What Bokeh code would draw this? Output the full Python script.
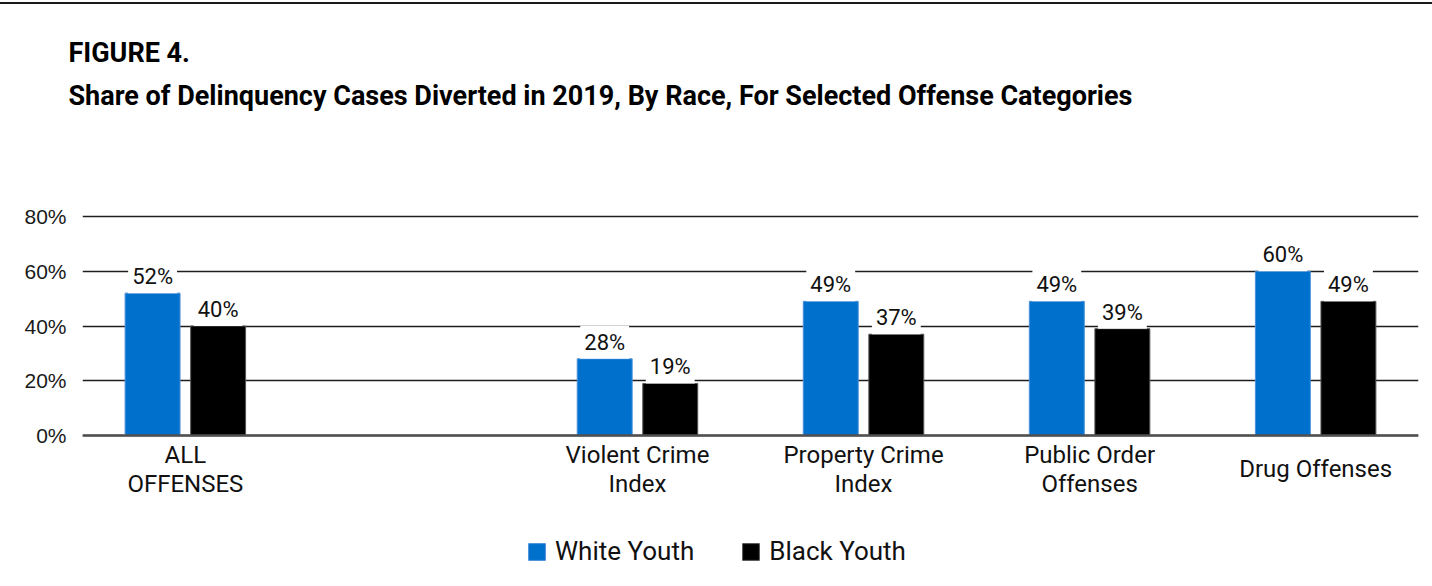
from bokeh.plotting import figure
from bokeh.models import ColumnDataSource, FactorRange, FixedTicker, Legend, LegendItem, Span, Title, Div
from bokeh.transform import dodge
from bokeh.layouts import column
from bokeh.core.properties import value
from bokeh.embed import file_html
from bokeh.resources import INLINE

# ---- data ----
x_factors = ["ALL OFFENSES", " ", "Violent Crime Index", "Property Crime Index",
             "Public Order Offenses", "Drug Offenses"]
categories = ["ALL OFFENSES", "Violent Crime Index", "Property Crime Index",
              "Public Order Offenses", "Drug Offenses"]
category_labels = ["ALL\nOFFENSES", "Violent Crime\nIndex", "Property Crime\nIndex",
                   "Public Order\nOffenses", "Drug Offenses"]
white_youth = [52, 28, 49, 49, 60]
black_youth = [40, 19, 37, 39, 49]
y_ticks = [0, 20, 40, 60, 80]
y_tick_labels = ["0%", "20%", "40%", "60%", "80%"]
series_names = ["White Youth", "Black Youth"]
title_text = "FIGURE 4."
subtitle_text = "Share of Delinquency Cases Diverted in 2019, By Race, For Selected Offense Categories"

# ---- layout constants (pixels) ----
W, H = 1432, 586
TOP_LINE_H = 6
TOP_MARGIN = 2
FIG_H = H - TOP_LINE_H - TOP_MARGIN
FRAME_TOP = 108          # inside figure
PX_PER_UNIT = 2.7375
ZERO_Y = 435 - TOP_LINE_H - TOP_MARGIN  # pixel of 0% inside figure
y_start = -(FIG_H - ZERO_Y) / PX_PER_UNIT
y_end = (ZERO_Y - FRAME_TOP) / PX_PER_UNIT

source = ColumnDataSource(dict(
    cat=categories,
    white=white_youth,
    black=black_youth,
    white_lbl=[f"{v}%" for v in white_youth],
    black_lbl=[f"{v}%" for v in black_youth],
    cat_lbl=category_labels,
    lbl_y=[-12.4] * len(categories),
))

x_range = FactorRange(*x_factors, range_padding=-0.045, range_padding_units="absolute")
p = figure(width=W, height=FIG_H, x_range=x_range,
           y_range=(y_start, y_end), output_backend="svg", toolbar_location=None,
           min_border_left=82, min_border_right=14, min_border_top=FRAME_TOP,
           min_border_bottom=0)
p.outline_line_color = None
p.background_fill_color = "white"
p.border_fill_color = "white"

p.xaxis.visible = False
p.xgrid.grid_line_color = None
p.yaxis.ticker = FixedTicker(ticks=y_ticks)
p.yaxis.major_label_overrides = {t: l for t, l in zip(y_ticks, y_tick_labels)}
p.yaxis.axis_line_color = None
p.yaxis.major_tick_line_color = None
p.yaxis.minor_tick_line_color = None
p.yaxis.major_tick_out = 0
p.yaxis.major_label_standoff = 16
p.yaxis.major_label_text_font = "Liberation Sans"
p.yaxis.major_label_text_font_size = "21px"
p.yaxis.major_label_text_color = "#1a1a1a"
p.ygrid.ticker = FixedTicker(ticks=y_ticks)
p.ygrid.grid_line_color = "#1e1e1e"
p.ygrid.grid_line_width = 1.4

p.add_layout(Span(location=0, dimension="width", line_color="#505050", line_width=2.5))

BAR_W = 0.243
OFF = 0.145
blue = "#0070CD"
r_white = p.vbar(x=dodge("cat", -OFF, range=p.x_range), top="white", width=BAR_W,
                 source=source, fill_color=blue, line_color="#4a90d9", line_width=1)
r_black = p.vbar(x=dodge("cat", OFF, range=p.x_range), top="black", width=BAR_W,
                 source=source, fill_color="black", line_color="#555555", line_width=1)

for col, off in (("white", -OFF), ("black", OFF)):
    p.text(x=dodge("cat", off, range=p.x_range), y=col, text=col + "_lbl", source=source,
           text_align="center", text_baseline="bottom", text_font=value("Roboto"),
           text_font_size="22px", text_color="#111111",
           background_fill_color="white", padding=4)

p.text(x="cat", y="lbl_y", text="cat_lbl", source=source, text_align="center",
       text_baseline="middle", text_font=value("Roboto"), text_font_size="24px",
       text_color="#111111", text_line_height=1.03)

legend = Legend(items=[LegendItem(label=series_names[0], renderers=[r_white]),
                       LegendItem(label=series_names[1], renderers=[r_black])],
                orientation="horizontal", location=(444, 20),
                glyph_width=21, glyph_height=21, label_text_font="Roboto",
                label_text_font_size="26px", label_text_color="#111111",
                label_height=26, label_standoff=8, spacing=46, padding=0, margin=0,
                border_line_color=None, background_fill_alpha=0)
p.add_layout(legend)

t2 = Title(text=subtitle_text, text_font="Roboto", text_font_size="27px",
           text_font_style="bold", align="left", offset=-14, text_color="black")
t1 = Title(text=title_text, text_font="Roboto", text_font_size="27px",
           text_font_style="bold", align="left", offset=-14, text_color="black",
           standoff=7)
p.add_layout(t2, "above")
p.add_layout(t1, "above")

top_line = Div(text="", width=W, height=TOP_LINE_H, margin=(TOP_MARGIN, 0, 0, 0),
               styles={"border-top": "2px solid #1a1a1a", "box-sizing": "border-box"})
layout = column(top_line, p, spacing=0)

open("out.html", "w").write(file_html(layout, INLINE))
